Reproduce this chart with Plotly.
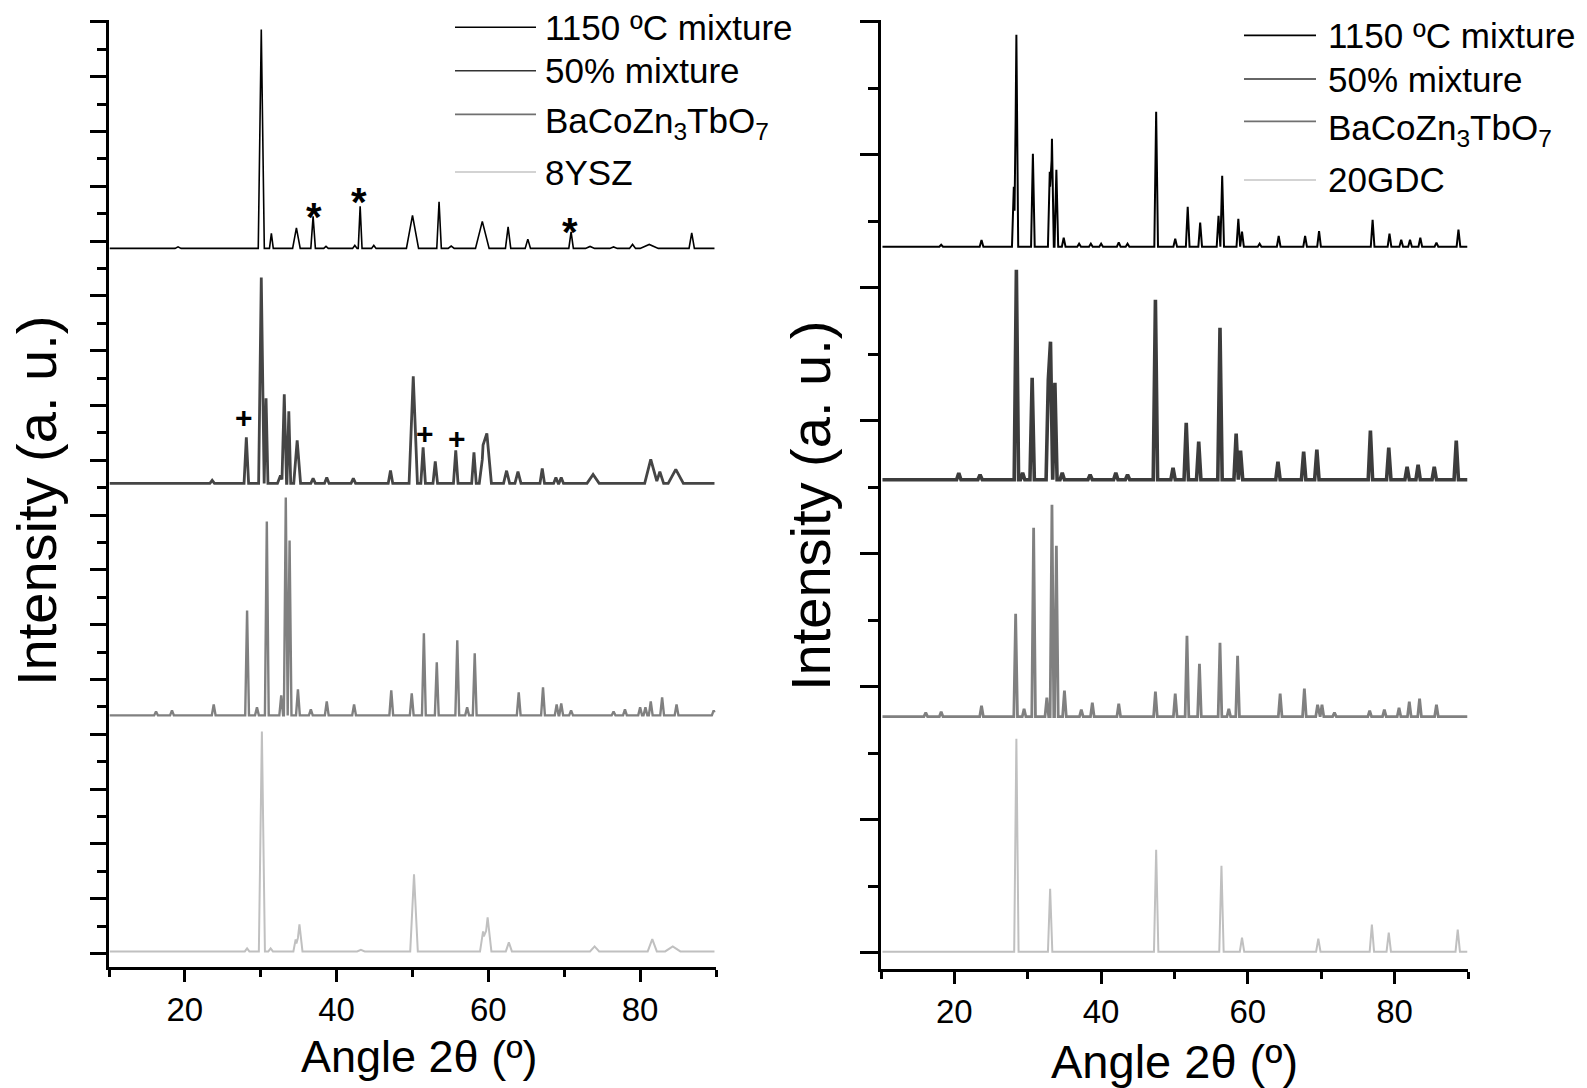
import plotly.graph_objects as go

# ---------------- data (peak tables) ----------------
# angle (2theta, deg), peak height (a.u.), half base width (deg)
# Left panel: 8YSZ series
L_mix1150_pos = [19.1, 30.07, 31.4, 34.7, 36.9, 38.6, 42.4, 43.1, 44.9, 50.0, 53.5, 55.1, 59.2, 62.6, 65.2, 70.9, 73.4, 76.5, 79.0, 81.2, 86.8]
L_mix1150_h   = [1.5, 219, 15, 20.6, 32, 2, 3, 42, 3, 33, 46.6, 2.3, 27, 21.6, 9.3, 16.6, 2, 1.5, 4, 4, 15.6]
L_mix1150_w   = [0.4, 0.4, 0.25, 0.5, 0.3, 0.3, 0.3, 0.25, 0.3, 0.8, 0.3, 0.4, 0.9, 0.35, 0.35, 0.3, 0.6, 0.5, 0.4, 1.2, 0.35]

L_mix50_pos = [23.6, 28.1, 30.07, 30.7, 32.6, 33.1, 33.7, 34.8, 36.9, 38.7, 42.2, 47.1, 50.1, 51.4, 53.0, 55.7, 58.1, 59.3, 59.8, 62.4, 63.9, 67.1, 68.9, 69.6, 73.8, 81.4, 82.6, 84.7]
L_mix50_h   = [3, 46, 206, 85, 8, 89, 72, 43, 5, 6, 5, 13, 107, 36, 22, 33, 31, 30, 50, 12.7, 11.7, 15, 6, 6, 9, 24, 11.7, 14]
L_mix50_w   = [0.3, 0.3, 0.35, 0.25, 0.4, 0.3, 0.25, 0.45, 0.3, 0.3, 0.3, 0.3, 0.55, 0.3, 0.3, 0.3, 0.3, 0.5, 0.6, 0.4, 0.4, 0.3, 0.3, 0.3, 0.8, 0.8, 0.5, 1.0]

L_bco_pos = [16.2, 18.3, 23.8, 28.2, 29.5, 30.8, 32.7, 33.3, 33.8, 34.9, 36.6, 38.7, 42.3, 47.2, 49.9, 51.5, 53.2, 55.9, 57.2, 58.2, 64.0, 67.2, 69.0, 69.6, 70.9, 76.5, 78.0, 80.0, 80.7, 81.4, 82.9, 84.8, 89.7]
L_bco_h   = [4, 5, 11, 105, 8, 194, 20, 218, 175, 26, 6, 14, 11, 25, 22, 82, 53, 75, 8, 62, 23, 28, 11, 12, 5, 4, 6, 8, 8, 14, 18, 11, 5]
L_bco_w   = [0.25] * len(L_bco_pos)

L_ysz_pos = [28.2, 30.15, 31.3, 34.6, 35.1, 43.2, 50.2, 59.3, 59.9, 62.7, 74.0, 81.6, 84.3]
L_ysz_h   = [3, 220, 3, 12, 27, 1.5, 77, 20, 34, 9, 5, 12.3, 5]
L_ysz_w   = [0.3, 0.4, 0.3, 0.3, 0.4, 0.5, 0.5, 0.4, 0.5, 0.4, 0.6, 0.6, 1.0]

# Right panel: 20GDC series
R_mix1150_pos = [18.2, 23.7, 28.1, 28.45, 30.7, 33.0, 33.3, 33.9, 34.9, 37.0, 38.6, 40.0, 42.4, 43.6, 47.5, 50.1, 51.8, 53.5, 56.0, 56.5, 58.7, 59.2, 61.6, 64.2, 67.8, 69.7, 77.0, 79.3, 80.9, 82.1, 83.5, 85.7, 88.7]
R_mix1150_h   = [2, 6.7, 60, 212, 93, 75, 108, 77, 9, 3, 3, 3, 4.3, 3, 135, 8, 40, 24, 31, 71, 28, 15, 3, 10.7, 10.7, 15.7, 27, 13, 7, 7, 9, 4, 17]
R_mix1150_w   = [0.25] * len(R_mix1150_pos)

R_mix50_pos = [20.6, 23.5, 28.45, 29.3, 30.6, 32.8, 33.1, 33.7, 34.7, 38.5, 42.0, 43.6, 47.4, 49.8, 51.6, 53.3, 56.2, 58.4, 59.0, 64.1, 67.6, 69.4, 76.7, 79.2, 81.7, 83.2, 85.4, 88.4]
R_mix50_h   = [6.7, 5, 210, 7, 102, 100, 138, 97, 7, 5, 7, 5, 180, 12, 57, 38, 152, 46, 29, 18, 28, 30, 49, 32, 13, 15, 13, 39]
R_mix50_w   = [0.3] * len(R_mix50_pos)

R_bco_pos = [16.1, 18.2, 23.7, 28.35, 29.5, 30.8, 32.6, 33.3, 33.9, 35.0, 37.3, 38.8, 42.4, 47.4, 50.1, 51.7, 53.4, 56.2, 57.4, 58.6, 64.4, 67.7, 69.5, 70.1, 71.8, 76.6, 78.6, 80.6, 82.0, 83.4, 85.7]
R_bco_h   = [4, 5, 11, 103, 8, 189, 19, 212, 171, 26, 7, 14, 13, 25, 23, 81, 53, 74, 8, 61, 23, 28, 12, 12, 4, 6, 7, 9, 15, 18, 12]
R_bco_w   = [0.25] * len(R_bco_pos)

R_gdc_pos = [28.45, 33.05, 47.5, 56.4, 59.2, 69.6, 76.9, 79.2, 88.6]
R_gdc_h   = [213, 63, 102, 86, 14, 13, 27, 19, 22]
R_gdc_w   = [0.3] * len(R_gdc_pos)

# vertical stacking offsets (a.u.)
L_offsets = [705, 470, 238, 2]
R_offsets = [706, 473, 236, 1]

series_names_L = ["1150 ºC mixture", "50% mixture", "BaCoZn<sub>3</sub>TbO<sub>7</sub>", "8YSZ"]
series_names_R = ["1150 ºC mixture", "50% mixture", "BaCoZn<sub>3</sub>TbO<sub>7</sub>", "20GDC"]

x_ticks = [20, 40, 60, 80]

# phase markers
star_x = [37.0, 43.0, 70.8]
star_y = [746, 761, 731]
plus_x = [27.8, 51.6, 55.8]
plus_y = [536, 520, 515]


def pattern(pos, h, w, offset, x0=10.0, x1=89.9):
    xs = {x0, x1}
    for p, wi in zip(pos, w):
        for v in (p - wi, p, p + wi):
            if x0 <= v <= x1:
                xs.add(round(v, 4))
    xs = sorted(xs)
    ys = []
    for x in xs:
        s = 0.0
        for p, hi, wi in zip(pos, h, w):
            d = abs(x - p)
            if d < wi:
                s += hi * (1 - d / wi)
        ys.append(offset + s)
    return xs, ys


FONT = "Liberation Sans, Arial, sans-serif"
colors = ["#000000", "#454545", "#808080", "#c0c0c0"]
colorsR = ["#000000", "#3c3c3c", "#808080", "#c0c0c0"]
widthsL = [1.6, 2.8, 2.4, 2.0]
widthsR = [2.0, 3.6, 2.8, 2.0]

fig = go.Figure()
L_data = [(L_mix1150_pos, L_mix1150_h, L_mix1150_w), (L_mix50_pos, L_mix50_h, L_mix50_w),
          (L_bco_pos, L_bco_h, L_bco_w), (L_ysz_pos, L_ysz_h, L_ysz_w)]
R_data = [(R_mix1150_pos, R_mix1150_h, R_mix1150_w), (R_mix50_pos, R_mix50_h, R_mix50_w),
          (R_bco_pos, R_bco_h, R_bco_w), (R_gdc_pos, R_gdc_h, R_gdc_w)]

for i, (d, off) in enumerate(zip(L_data, L_offsets)):
    xs, ys = pattern(d[0], d[1], d[2], off, x0=10.1, x1=89.8)
    fig.add_trace(go.Scatter(x=xs, y=ys, mode="lines", line=dict(color=colors[i], width=widthsL[i]),
                             xaxis="x", yaxis="y", showlegend=False, name=series_names_L[i]))
for i, (d, off) in enumerate(zip(R_data, R_offsets)):
    xs, ys = pattern(d[0], d[1], d[2], off, x0=10.2, x1=89.9)
    fig.add_trace(go.Scatter(x=xs, y=ys, mode="lines", line=dict(color=colorsR[i], width=widthsR[i]),
                             xaxis="x2", yaxis="y2", showlegend=False, name=series_names_R[i]))

W, H = 1587, 1088


def px(x):
    return x / W


def py(y):
    return 1 - y / H


tickfont = dict(family=FONT, size=33, color="black")

common_x = dict(range=[10, 90], showline=True, linewidth=3, linecolor="black", mirror=False,
                ticks="outside", ticklen=12, tickwidth=2.5, tickcolor="black",
                tickmode="array", tickvals=x_ticks, ticktext=[str(v) for v in x_ticks],
                minor=dict(ticks="outside", ticklen=7, tickwidth=2.5, tickcolor="black",
                           tickmode="array", tickvals=[10, 30, 50, 70, 90]),
                showgrid=False, zeroline=False, tickfont=tickfont, ticklabelstandoff=0)

fig.update_layout(
    width=W, height=H, margin=dict(l=0, r=0, t=0, b=0),
    paper_bgcolor="white", plot_bgcolor="white", showlegend=False,
    xaxis=dict(domain=[px(109), px(716)], anchor="y", **common_x),
    xaxis2=dict(domain=[px(881), px(1468)], anchor="y2", **common_x),
    yaxis=dict(domain=[py(966.6), py(20)], anchor="x", range=[-13.2, 933.4],
               showline=True, linewidth=3, linecolor="black", ticks="outside",
               ticklen=16, tickwidth=2.5, tickcolor="black", tick0=0, dtick=54.8,
               minor=dict(ticks="outside", ticklen=9, tickwidth=2.5, tickcolor="black", tick0=0, dtick=27.4),
               showticklabels=False, showgrid=False, zeroline=False),
    yaxis2=dict(domain=[py(968.6), py(20)], anchor="x2", range=[-15.9, 932.7],
                showline=True, linewidth=3, linecolor="black", ticks="outside",
                ticklen=18, tickwidth=2.5, tickcolor="black", tick0=0, dtick=133,
                minor=dict(ticks="outside", ticklen=10, tickwidth=2.5, tickcolor="black", tick0=0, dtick=66.5),
                showticklabels=False, showgrid=False, zeroline=False),
)

ann = []
shapes = []
# axis titles
ann.append(dict(text="Angle 2θ (º)", x=px(420), y=py(1056), xref="paper", yref="paper",
                showarrow=False, font=dict(family=FONT, size=45, color="black"), xanchor="center", yanchor="middle"))
ann.append(dict(text="Angle 2θ (º)", x=px(1174), y=py(1061), xref="paper", yref="paper",
                showarrow=False, font=dict(family=FONT, size=47, color="black"), xanchor="center", yanchor="middle"))
ann.append(dict(text="Intensity (a. u.)", x=px(36), y=py(501), xref="paper", yref="paper", textangle=-90,
                showarrow=False, font=dict(family=FONT, size=56, color="black"), xanchor="center", yanchor="middle"))
ann.append(dict(text="Intensity (a. u.)", x=px(810), y=py(506), xref="paper", yref="paper", textangle=-90,
                showarrow=False, font=dict(family=FONT, size=56, color="black"), xanchor="center", yanchor="middle"))

# legends
legL_y = [27.3, 70.8, 114.4, 172]
legR_y = [35.4, 79, 121.4, 180]
leg_col = ["#000000", "#333333", "#707070", "#c4c4c4"]
for i in range(4):
    shapes.append(dict(type="line", xref="paper", yref="paper", x0=px(455), x1=px(536),
                       y0=py(legL_y[i]), y1=py(legL_y[i]), line=dict(color=leg_col[i], width=1.6)))
    dy = 9 if i == 2 else 0
    ann.append(dict(text=series_names_L[i], x=px(543), y=py(legL_y[i] + dy), xref="paper", yref="paper",
                    showarrow=False, font=dict(family=FONT, size=35, color="black"),
                    xanchor="left", yanchor="middle"))
    shapes.append(dict(type="line", xref="paper", yref="paper", x0=px(1244), x1=px(1316),
                       y0=py(legR_y[i]), y1=py(legR_y[i]), line=dict(color=leg_col[i], width=1.6)))
    ann.append(dict(text=series_names_R[i], x=px(1326), y=py(legR_y[i] + dy), xref="paper", yref="paper",
                    showarrow=False, font=dict(family=FONT, size=35, color="black"),
                    xanchor="left", yanchor="middle"))

# phase markers
for x, y in zip(star_x, star_y):
    ann.append(dict(text="<b>*</b>", x=x, y=y, xref="x", yref="y", showarrow=False, yshift=-10,
                    font=dict(family=FONT, size=40, color="black"), xanchor="center", yanchor="middle"))
for x, y in zip(plus_x, plus_y):
    ann.append(dict(text="<b>+</b>", x=x, y=y, xref="x", yref="y", showarrow=False,
                    font=dict(family=FONT, size=30, color="black"), xanchor="center", yanchor="middle"))

fig.update_layout(annotations=ann, shapes=shapes)
fig.write_html("out.html")
